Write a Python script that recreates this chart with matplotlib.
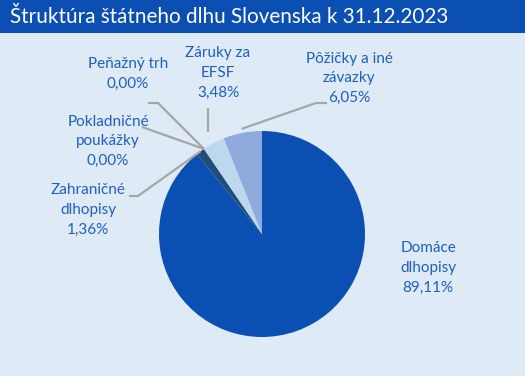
import numpy as np
import matplotlib
matplotlib.use("Agg")
import matplotlib.pyplot as plt
from matplotlib.patches import Rectangle

plt.rcParams['font.family'] = ['Lato', 'DejaVu Sans']

# data
names = ['Domáce\ndlhopisy', 'Zahraničné\ndlhopisy', 'Pokladničné\npoukážky',
         'Peňažný trh', 'Záruky za\nEFSF', 'Pôžičky a iné\nzávazky']
shares = [89.11, 1.36, 0.00, 0.00, 3.48, 6.05]
colors = ['#0B4FB3', '#1F4E79', '#2E75B6', '#9DC3E6', '#BDD7EE', '#8FAADC']
title = 'Štruktúra štátneho dlhu Slovenska k 31.12.2023'

W, H = 525, 376
cx, cy, R = 262, 234, 103   # pie center / radius in pixels (from top-left)

def px(x, y):
    # pixel (from top-left) -> data units
    return (x - cx) / R, (cy - y) / R

bg = '#DEEAF6'
txt_col = '#1F5FBF'
line_col = '#A6A6A6'

fig = plt.figure(figsize=(W / 100, H / 100), dpi=100, facecolor=bg)
ax = fig.add_axes([0, 0, 1, 1])
ax.set_facecolor(bg)

wedges, _ = ax.pie(shares, colors=colors, startangle=90, counterclock=False,
                   radius=1, wedgeprops=dict(linewidth=0))
ax.set_xlim(-cx / R, (W - cx) / R)
ax.set_ylim(-(H - cy) / R, cy / R)
ax.set_aspect('auto')
ax.axis('off')

# title bar
fig.patches.append(Rectangle((0, 1 - 33 / H), 1, 33 / H, transform=fig.transFigure,
                             facecolor='#0B4FB3', edgecolor='none', zorder=0))
fig.text(10 / W, 1 - 17 / H, title, color='white', fontsize=14.9, va='center', ha='left')

# label positions (pixels, center of text block) and leader line start points
label_pos = [(428, 268), (88, 210), (108, 141), (128, 74), (218, 73), (349, 78)]
leader = [None,
          [(129, 196), (138, 196)],
          [(142, 127)],
          [(148, 103), (158, 103)],
          'vertical',
          [(327, 103), (316, 103)]]
radii = [1.0, 1.0, 1.0, 1.0, 1.12, 1.04]

for i, w in enumerate(wedges):
    mid = np.deg2rad((w.theta1 + w.theta2) / 2)
    ex, ey = radii[i] * np.cos(mid), radii[i] * np.sin(mid)
    lx, ly = px(*label_pos[i])
    ax.text(lx, ly, names[i] + '\n' + f'{shares[i]:.2f}'.replace('.', ',') + '%',
            ha='center', va='center', color=txt_col, fontsize=11, linespacing=1.5)
    if leader[i] is None:
        continue
    if leader[i] == 'vertical':
        pts = [(ex, px(0, 108)[1])]
    else:
        pts = [px(*p) for p in leader[i]]
    pts.append((ex, ey))
    xs, ys = zip(*pts)
    ax.plot(xs, ys, color=line_col, lw=1.6, solid_capstyle='butt')

fig.savefig('out.png', dpi=100, facecolor=bg)
